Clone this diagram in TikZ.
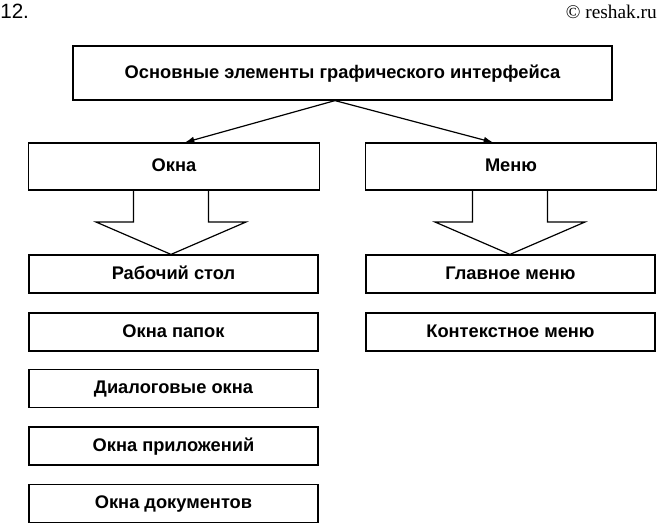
\documentclass[tikz,border=0pt]{standalone}
\usepackage{fontspec}
\setmainfont{Liberation Sans}
\newfontfamily\wmserif{Liberation Serif}
\usetikzlibrary{positioning,calc,arrows.meta}
\newcommand{\fatarrow}[3]{%
  \draw[line] (#1-37.5,0 |- #2.south) -- (#1-37.5,222) -- (#1-75,222)
    -- (#1,0 |- #3.north) -- (#1+75,222) -- (#1+37.5,222) -- (#1+37.5,0 |- #2.south);}

\begin{document}
\begin{tikzpicture}[x=0.75pt, y=-0.75pt,
  line/.style={line width=0.9pt},
  box/.style={draw, line width=0.9pt, inner sep=0pt, text height=10pt, text depth=2.5pt,
    font=\fontsize{13.7}{16}\selectfont\bfseries},
  bigbox/.style={box, minimum width=404.25pt, minimum height=40.5pt},
  headbox/.style={box, minimum width=218pt, minimum height=35.25pt},
  itembox/.style={box, minimum width=216.75pt, minimum height=28.5pt}]
\useasboundingbox (0,0) rectangle (661,529);

\node[anchor=base west, inner sep=0pt, font=\fontsize{15.5}{17}\selectfont] (num) at (0,18) {12.};
\node[anchor=base east, inner sep=0pt, font=\wmserif\fontsize{14.5}{17}\selectfont] (site) at (657,18) {© reshak.ru};

\node[bigbox] (main) at (342.5,73) {Основные элементы графического интерфейса};
\node[headbox] (okna) at (174,166.5) {Окна};
\node[headbox] (menu) at (511,166.5) {Меню};

\node[itembox] (desk) at (173.5,274) {Рабочий стол};
\node[itembox] (folders) at (173.5,332) {Окна папок};
\node[itembox] (dialogs) at (173.5,388.5) {Диалоговые окна};
\node[itembox] (apps) at (173.5,446) {Окна приложений};
\node[itembox] (docs) at (173.5,503.5) {Окна документов};

\node[itembox] (mainmenu) at (510.5,274) {Главное меню};
\node[itembox] (context) at (510.5,332) {Контекстное меню};

\coordinate (fork) at (335,0 |- main.south);
\draw[line, -{Latex[length=7pt,width=5pt]}] (fork) -- ($(okna.north)+(11,0)$);
\draw[line, -{Latex[length=7pt,width=5pt]}] (fork) -- ($(menu.north)+(-18,0)$);

\fatarrow{171}{okna}{desk}
\fatarrow{510}{menu}{mainmenu}
\end{tikzpicture}
\end{document}
